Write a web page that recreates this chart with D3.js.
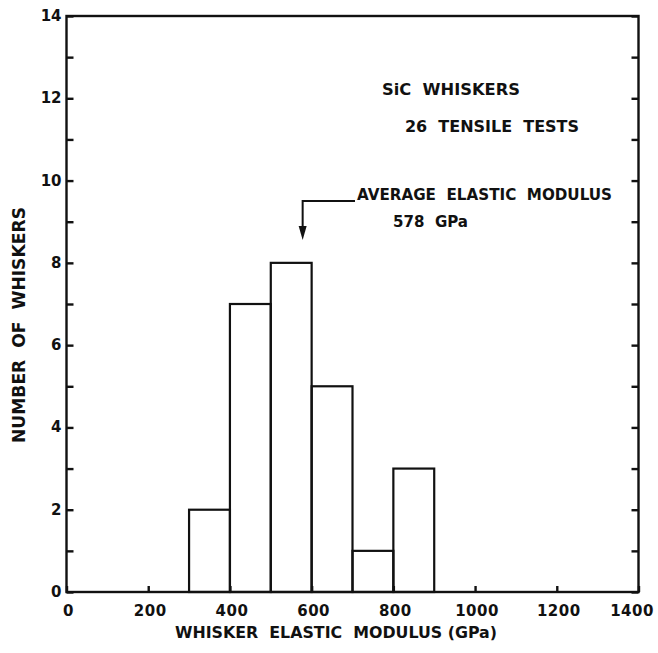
<!DOCTYPE html>
<html>
<head>
<meta charset="utf-8">
<script src="https://cdn.jsdelivr.net/npm/d3@7"></script>
<style>
  body { margin:0; background:#fff; }
  text { font-family:"DejaVu Sans", sans-serif; font-weight:bold; fill:#111; white-space:pre; }
</style>
</head>
<body>
<div class="chart"></div>
<script>
// histogram bins (GPa) and counts
var binStart = [300, 400, 500, 600, 700, 800];
var binEnd   = [400, 500, 600, 700, 800, 900];
var counts   = [2, 7, 8, 5, 1, 3];
var xTicks = [0, 200, 400, 600, 800, 1000, 1200, 1400];
var yTicks = [0, 2, 4, 6, 8, 10, 12, 14];
var averageModulus = 578;

var values = { width:658, height:653 };

var x = d3.scaleLinear().domain([0, 1400]).range([66.5, 638.5]);
var y = d3.scaleLinear().domain([0, 14]).range([592, 16]);

var svg = d3.select('.chart')
            .append('svg')
            .attr("width", values.width)
            .attr("height", values.height);

// bars
var bars = binStart.map(function (d, i) { return { x0: d, x1: binEnd[i], n: counts[i] }; });
svg.selectAll("rect.bar")
    .data(bars)
    .enter()
    .append("rect")
    .attr("class", "bar")
    .attr("x", function (d) { return x(d.x0); })
    .attr("y", function (d) { return y(d.n); })
    .attr("width", function (d) { return x(d.x1) - x(d.x0); })
    .attr("height", function (d) { return y(0) - y(d.n); })
    .attr("fill", "none")
    .attr("stroke", "#111")
    .attr("stroke-width", 2.2);

// frame
svg.append("rect")
    .attr("x", x(0)).attr("y", y(14))
    .attr("width", x(1400) - x(0)).attr("height", y(0) - y(14))
    .attr("fill", "none").attr("stroke", "#111").attr("stroke-width", 2.4);

// left and right axes: inward ticks every 1
var yAxis = d3.axisRight(y).ticks(14).tickSize(7).tickFormat("");
svg.append("g").attr("transform", "translate(" + x(0) + ",0)").call(yAxis);
var yAxisR = d3.axisLeft(y).ticks(14).tickSize(7).tickFormat("");
svg.append("g").attr("transform", "translate(" + x(1400) + ",0)").call(yAxisR);
// bottom axis ticks pointing up
var xAxis = d3.axisTop(x).tickValues(xTicks).tickSize(6).tickFormat("");
svg.append("g").attr("transform", "translate(0," + y(0) + ")").call(xAxis);
svg.selectAll(".domain").remove();
svg.selectAll(".tick line").attr("stroke", "#111").attr("stroke-width", 2.4);

// tick labels
svg.selectAll("text.ylab")
    .data(yTicks)
    .enter()
    .append("text")
    .attr("class", "ylab")
    .attr("x", x(0) - 5)
    .attr("y", function (d) { return y(d) + 5; })
    .style("text-anchor", "end")
    .style("font-size", "15px")
    .text(function (d) { return d; });

svg.selectAll("text.xlab")
    .data(xTicks)
    .enter()
    .append("text")
    .attr("class", "xlab")
    .attr("x", function (d) { return Math.min(x(d) + 2, 632); })
    .attr("y", 616)
    .style("text-anchor", "middle")
    .style("font-size", "15px")
    .style("letter-spacing", "0.5px")
    .text(function (d) { return d; });

// axis titles
svg.append("text")
    .attr("x", 336).attr("y", 638)
    .attr("text-anchor", "middle")
    .attr("textLength", 322).attr("lengthAdjust", "spacingAndGlyphs")
    .style("font-size", "16px")
    .text("WHISKER  ELASTIC  MODULUS (GPa)");

svg.append("text")
    .attr("transform", "translate(25,325) rotate(-90)")
    .attr("text-anchor", "middle")
    .attr("textLength", 236).attr("lengthAdjust", "spacingAndGlyphs")
    .style("font-size", "17px")
    .text("NUMBER  OF  WHISKERS");

// annotations
svg.append("text").attr("x", 382).attr("y", 95)
    .attr("textLength", 138).attr("lengthAdjust", "spacingAndGlyphs")
    .style("font-size", "16px").text("SiC  WHISKERS");
svg.append("text").attr("x", 405).attr("y", 132)
    .attr("textLength", 174).attr("lengthAdjust", "spacingAndGlyphs")
    .style("font-size", "16px").text("26  TENSILE  TESTS");
svg.append("text").attr("x", 357).attr("y", 200)
    .attr("textLength", 255).attr("lengthAdjust", "spacingAndGlyphs")
    .style("font-size", "16px").text("AVERAGE  ELASTIC  MODULUS");
svg.append("text").attr("x", 393).attr("y", 227)
    .attr("textLength", 75).attr("lengthAdjust", "spacingAndGlyphs")
    .style("font-size", "16px").text("578  GPa");

// arrow pointing to average
var ax = x(averageModulus);
svg.append("path")
    .attr("d", "M355,201 H" + ax + " V228")
    .attr("fill", "none").attr("stroke", "#111").attr("stroke-width", 2);
svg.append("path")
    .attr("d", "M" + (ax - 4) + ",226 L" + (ax + 4) + ",226 L" + ax + ",240 Z")
    .attr("fill", "#111");
</script>
</body>
</html>
